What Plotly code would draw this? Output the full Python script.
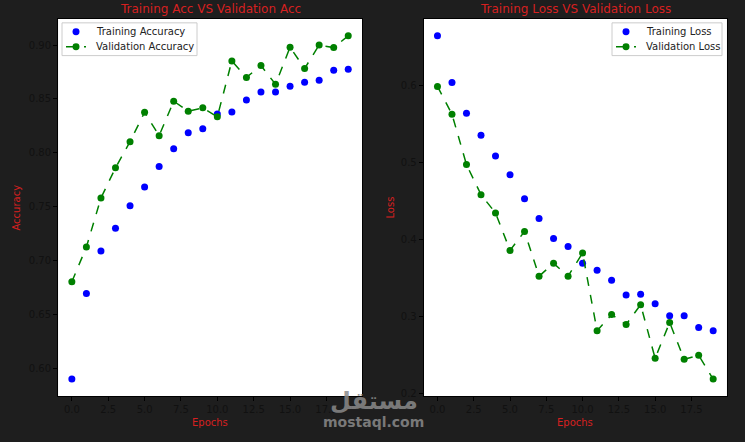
import plotly.graph_objects as go

# epochs 0..19
epochs = list(range(20))

train_acc = [0.5905, 0.6697, 0.7092, 0.7303, 0.7510, 0.7684, 0.7875, 0.8040, 0.8187, 0.8224,
             0.8362, 0.8380, 0.8490, 0.8564, 0.8564, 0.8619, 0.8656, 0.8674, 0.8767, 0.8776]
val_acc = [0.6807, 0.7129, 0.7583, 0.7862, 0.8105, 0.8377, 0.8160, 0.8480, 0.8386, 0.8418,
           0.8335, 0.8853, 0.8700, 0.8810, 0.8636, 0.8980, 0.8782, 0.9000, 0.8976, 0.9086]
train_loss = [0.6640, 0.6035, 0.5636, 0.5350, 0.5080, 0.4838, 0.4529, 0.4270, 0.4013, 0.3910,
              0.3690, 0.3600, 0.3470, 0.3280, 0.3290, 0.3167, 0.3010, 0.3010, 0.2858, 0.2816]
val_loss = [0.5983, 0.5623, 0.4970, 0.4580, 0.4344, 0.3858, 0.4103, 0.3524, 0.3690, 0.3524,
            0.3824, 0.2816, 0.3026, 0.2897, 0.3155, 0.2460, 0.2923, 0.2447, 0.2498, 0.2190]

acc_ticks = [0.60, 0.65, 0.70, 0.75, 0.80, 0.85, 0.90]
loss_ticks = [0.2, 0.3, 0.4, 0.5, 0.6]
epoch_ticks = [0.0, 2.5, 5.0, 7.5, 10.0, 12.5, 15.0, 17.5]

BG = "#1e1e1e"
RED = "#d62020"
BLUE = "#0000ff"
GREEN = "#008000"
FONT = "DejaVu Sans"
W, H = 745, 442


def pad(values, frac=0.05):
    lo, hi = min(values), max(values)
    m = (hi - lo) * frac
    return [lo - m, hi + m]


def px(x):
    return x / W


def py(y):
    return 1 - y / H


fig = go.Figure()

fig.add_trace(go.Scatter(x=epochs, y=train_acc, mode="markers", name="Training Accuracy",
                         marker=dict(color=BLUE, size=7), xaxis="x", yaxis="y"))
fig.add_trace(go.Scatter(x=epochs, y=val_acc, mode="lines+markers", name="Validation Accuracy",
                         marker=dict(color=GREEN, size=7), line=dict(color=GREEN, width=1.5, dash="dash"),
                         xaxis="x", yaxis="y"))
fig.add_trace(go.Scatter(x=epochs, y=train_loss, mode="markers", name="Training Loss",
                         marker=dict(color=BLUE, size=7), xaxis="x2", yaxis="y2"))
fig.add_trace(go.Scatter(x=epochs, y=val_loss, mode="lines+markers", name="Validation Loss",
                         marker=dict(color=GREEN, size=7), line=dict(color=GREEN, width=1.5, dash="dash"),
                         xaxis="x2", yaxis="y2"))

axis_common = dict(showgrid=False, zeroline=False, showline=True, linecolor="black", linewidth=1,
                   mirror=True, ticks="outside", ticklen=4, tickcolor="black",
                   tickfont=dict(family=FONT, size=10, color="#111111"))

xr = [-0.95, 19.95]
fig.update_layout(
    width=W, height=H,
    margin=dict(l=0, r=0, t=0, b=0),
    paper_bgcolor=BG, plot_bgcolor="white",
    font=dict(family=FONT),
    showlegend=False,
    xaxis=dict(domain=[0.0779, 0.486], range=xr, tickvals=epoch_ticks,
               ticktext=[f"{v:.1f}" for v in epoch_ticks], anchor="y", **axis_common),
    yaxis=dict(domain=[0.0973, 0.9577], range=pad(train_acc + val_acc), tickvals=acc_ticks,
               ticktext=[f"{v:.2f}" for v in acc_ticks], anchor="x", **axis_common),
    xaxis2=dict(domain=[0.5687, 0.9758], range=xr, tickvals=epoch_ticks,
                ticktext=[f"{v:.1f}" for v in epoch_ticks], anchor="y2", **axis_common),
    yaxis2=dict(domain=[0.0973, 0.9577], range=pad(train_loss + val_loss), tickvals=loss_ticks,
                ticktext=[f"{v:.1f}" for v in loss_ticks], anchor="x2", **axis_common),
)


# compact matplotlib-style legends (box, symbols, labels)
def add_legend(left, right, labels):
    top, bottom = 23, 56
    fig.add_shape(type="rect", xref="paper", yref="paper",
                  x0=px(left), x1=px(right), y0=py(bottom), y1=py(top),
                  fillcolor="white", line=dict(color="#cccccc", width=1), layer="above")
    sym_x = left + 14
    for i, label in enumerate(labels):
        yc = 32 + i * 15
        if i == 1:
            fig.add_shape(type="line", xref="paper", yref="paper",
                          x0=px(sym_x - 10), x1=px(sym_x + 10), y0=py(yc), y1=py(yc),
                          line=dict(color=GREEN, width=1.5, dash="dash"), layer="above")
        color = BLUE if i == 0 else GREEN
        fig.add_shape(type="circle", xref="paper", yref="paper",
                      x0=px(sym_x - 3.5), x1=px(sym_x + 3.5), y0=py(yc + 3.5), y1=py(yc - 3.5),
                      fillcolor=color, line=dict(color=color, width=0), layer="above")
        fig.add_annotation(xref="paper", yref="paper", x=px(left + 32), y=py(yc),
                           xanchor="left", yanchor="middle", showarrow=False, text=label,
                           font=dict(family=FONT, size=10, color="#222222"))


add_legend(62, 197, ["Training Accuracy", "Validation Accuracy"])
add_legend(612, 722, ["Training Loss", "Validation Loss"])

annotations = [
    dict(text="Training Acc VS Validation Acc", x=210, y=9, size=12, color=RED),
    dict(text="Training Loss VS Validation Loss", x=575, y=9, size=12, color=RED),
    dict(text="Epochs", x=210, y=425, size=10, color=RED),
    dict(text="Epochs", x=575, y=425, size=10, color=RED),
    dict(text="Accuracy", x=17, y=209, size=10, color=RED, textangle=-90),
    dict(text="Loss", x=391, y=209, size=10, color=RED, textangle=-90),
    dict(text="<b>مستقل</b>", x=374, y=404, size=24, color="#8a8a8a", opacity=0.85),
    dict(text="<b>mostaql.com</b>", x=373, y=425, size=14, color="#8a8a8a", opacity=0.85),
]
for a in annotations:
    fig.add_annotation(xref="paper", yref="paper", x=px(a["x"]), y=py(a["y"]),
                       xanchor="center", yanchor="middle", showarrow=False,
                       text=a["text"], font=dict(family=FONT, size=a["size"], color=a["color"]),
                       textangle=a.get("textangle", 0), opacity=a.get("opacity", 1))

fig.write_html("out.html", config={"displayModeBar": False},
               post_script="document.body.style.margin='0';")
